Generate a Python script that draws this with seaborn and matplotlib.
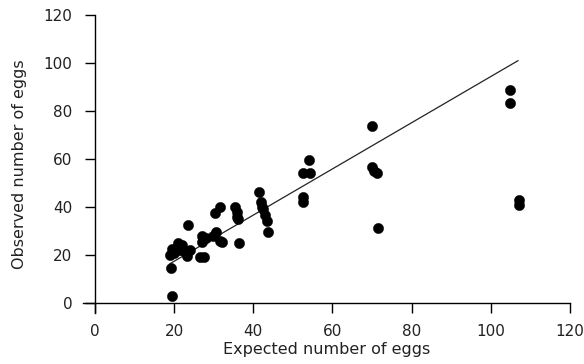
import matplotlib
matplotlib.use("Agg")
import matplotlib.pyplot as plt
import seaborn as sns
import numpy as np
import pandas as pd

# Data
expected = [19.4, 19.2, 19.0, 19.5, 20.0, 20.5, 21.0, 21.5, 22.0, 22.5,
            23.2, 23.6, 24.0, 26.5, 27.0, 27.0, 27.5, 28.0, 29.8, 30.3,
            30.7, 31.6, 31.6, 32.0, 35.5, 35.8, 36.0, 36.2, 36.5, 41.5,
            42.0, 42.3, 42.5, 43.0, 43.5, 43.8, 52.6, 52.6, 52.6, 54.0,
            54.3, 70.0, 70.1, 70.5, 71.2, 71.4, 104.9, 104.9, 107.1, 107.1]
observed = [2.9, 14.5, 20.0, 22.5, 21.0, 23.0, 25.0, 22.0, 24.0, 21.5,
            19.5, 32.5, 22.0, 19.3, 28.0, 25.5, 19.3, 27.0, 28.0, 37.4,
            29.5, 40.0, 26.0, 25.5, 40.0, 38.0, 36.0, 35.0, 25.0, 46.4,
            42.0, 40.0, 39.0, 36.5, 34.0, 29.7, 54.0, 44.3, 42.2, 59.6,
            54.0, 73.75, 56.8, 55.0, 54.0, 31.1, 88.75, 83.2, 42.9, 40.8]

fit_slope = 0.962
fit_intercept = -1.86
fit_range = [19.0, 106.9]

x_ticks = [0, 20, 40, 60, 80, 100, 120]
y_ticks = [0, 20, 40, 60, 80, 100, 120]

sns.set_style("ticks")
plt.rcParams['font.family'] = ['DejaVu Sans']

fig = plt.figure(figsize=(5.84, 3.64), dpi=100)
ax = fig.add_axes([0.142, 0.141, 0.976 - 0.142, 0.959 - 0.141])

df = pd.DataFrame({"Expected": expected, "Observed": observed})
sns.scatterplot(data=df, x="Expected", y="Observed", ax=ax, color="black",
                s=55, edgecolor="black", linewidth=0.3, zorder=3)

fit_x = np.array(fit_range)
fit_df = pd.DataFrame({"x": fit_x, "y": fit_slope * fit_x + fit_intercept})
sns.lineplot(data=fit_df, x="x", y="y", ax=ax, color="#222222", linewidth=0.9, zorder=2)

ax.set_xlim(-3, 120)
ax.set_ylim(-4, 120)
ax.spines['left'].set_position(('data', 0))
ax.spines['bottom'].set_position(('data', 0))
ax.spines['right'].set_visible(False)
ax.spines['top'].set_visible(False)
for s in ['left', 'bottom']:
    ax.spines[s].set_linewidth(1.0)
    ax.spines[s].set_color('black')
ax.set_xticks(x_ticks)
ax.set_yticks(y_ticks)
ax.tick_params(axis='both', direction='out', length=7, width=1.0,
               labelsize=11, colors='black', labelcolor='#222222')
ax.tick_params(axis='y', pad=9)
ax.tick_params(axis='x', pad=8)
ax.set_xlabel("Expected number of eggs", fontsize=11.5, labelpad=2, color='#222222')
ax.set_ylabel("Observed number of eggs", fontsize=11.5, labelpad=12, color='#222222')

fig.savefig("out.png", dpi=100)
